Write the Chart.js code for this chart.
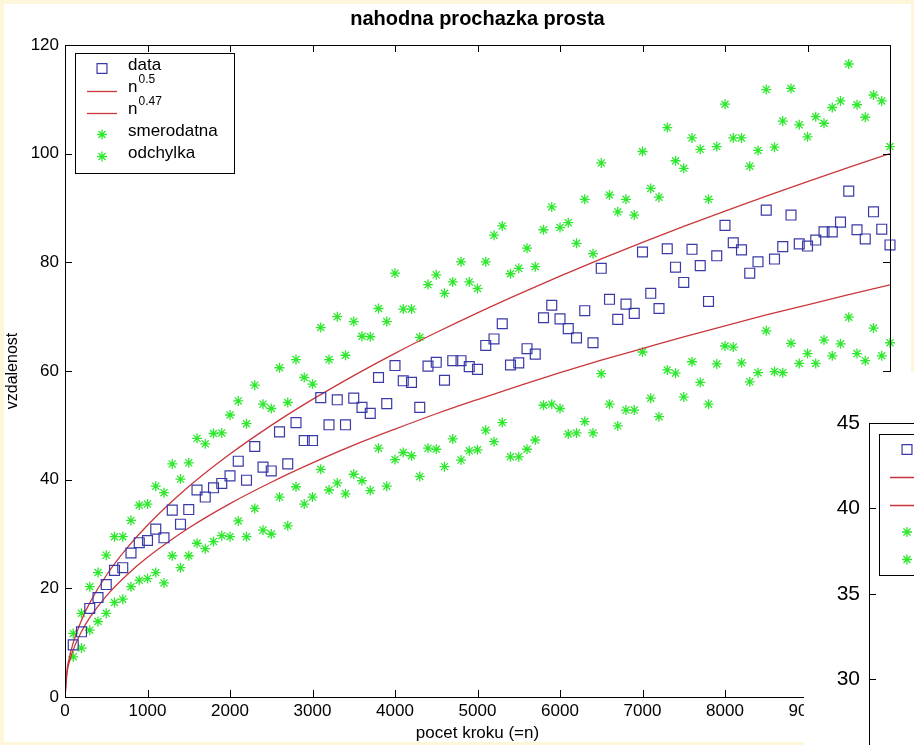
<!DOCTYPE html>
<html>
<head>
<meta charset="utf-8">
<script src="https://cdn.jsdelivr.net/npm/chart.js@4.4.1/dist/chart.umd.min.js"></script>
<style>
    html, body { margin: 0; padding: 0; }
    body { width: 914px; height: 745px; background: #fdf6da; position: relative; overflow: hidden; }
    #paper { position: absolute; left: 4px; top: 4px; right: 3px; bottom: 3px; background: #fff; }
    #main { position: absolute; left: 0; top: 0; }
    #inset { position: absolute; left: 804px; top: 372px; width: 110px; height: 373px; overflow: hidden; background: #fff; }
    #inset canvas { position: absolute; left: 0; top: 0; }
</style>
</head>
<body>
<div id="paper"></div>
<canvas id="main" width="914" height="745"></canvas>
<div id="inset"><canvas id="zoomChart" width="400" height="520"></canvas></div>
<script>
// pocet kroku n = 100, 200, ... 10000
const steps = Array.from({length: 100}, (_, i) => (i + 1) * 100);

const distance = [
    9.6, 12.0, 16.3, 18.3, 20.7, 23.3, 23.8, 26.5, 28.4, 28.8,
    30.9, 29.3, 34.4, 31.8, 34.5, 38.1, 36.8, 38.5, 39.3, 40.7,
    43.4, 39.9, 46.1, 42.3, 41.6, 48.8, 42.9, 50.5, 47.2, 47.2,
    55.1, 50.1, 54.7, 50.1, 55.0, 53.3, 52.2, 58.8, 54.0, 61.0,
    58.2, 57.9, 53.3, 60.9, 61.6, 58.3, 61.9, 61.9, 60.8, 60.3,
    64.7, 65.9, 68.7, 61.1, 61.5, 64.1, 63.1, 69.8, 72.1, 69.6,
    67.8, 66.1, 71.1, 65.2, 78.9, 73.2, 69.5, 72.3, 70.6, 81.9,
    74.3, 71.5, 82.5, 79.1, 76.3, 82.4, 79.4, 72.8, 81.2, 86.8,
    83.6, 82.3, 78.0, 80.1, 89.6, 80.6, 82.9, 88.7, 83.4, 83.0,
    84.1, 85.6, 85.6, 87.4, 93.1, 86.0, 84.3, 89.3, 86.1, 83.2
];

const upperDev = [
    11.7, 15.4, 20.3, 22.9, 26.1, 29.5, 29.5, 32.5, 35.3, 35.5,
    38.8, 37.6, 42.9, 40.1, 43.1, 47.6, 46.6, 48.5, 48.6, 51.9,
    54.5, 50.3, 57.4, 53.9, 53.1, 60.6, 54.2, 62.1, 58.8, 57.6,
    68.0, 62.1, 70.0, 62.9, 69.1, 66.4, 66.3, 71.5, 69.1, 78.0,
    71.4, 71.4, 66.2, 75.9, 77.7, 74.3, 76.4, 80.1, 76.4, 75.2,
    80.1, 85.0, 86.7, 77.9, 78.9, 82.6, 79.2, 86.0, 90.2, 86.4,
    87.3, 83.5, 91.6, 81.6, 98.3, 92.4, 89.3, 91.6, 88.7, 100.4,
    93.6, 92.0, 104.8, 98.7, 97.3, 102.9, 100.8, 91.6, 101.3, 109.1,
    102.9, 102.9, 97.7, 100.6, 111.8, 101.2, 106.0, 112.0, 105.3, 103.1,
    106.8, 105.6, 108.5, 109.7, 116.5, 109.0, 106.7, 110.8, 109.7, 101.3
];

const lowerDev = [
    7.4, 9.0, 12.3, 13.9, 15.4, 17.4, 18.0, 20.3, 21.5, 21.8,
    22.9, 21.0, 26.0, 23.8, 26.0, 28.3, 27.3, 28.6, 29.7, 29.5,
    32.4, 29.5, 34.7, 30.7, 30.0, 36.8, 31.5, 38.7, 35.5, 36.8,
    41.9, 38.1, 39.4, 37.4, 41.0, 39.8, 38.0, 45.8, 38.8, 43.7,
    45.0, 44.4, 40.6, 45.8, 45.6, 42.4, 47.5, 43.6, 45.3, 45.5,
    49.1, 47.0, 50.5, 44.2, 44.2, 45.6, 47.3, 53.7, 53.9, 53.1,
    48.4, 48.6, 50.7, 48.6, 59.5, 53.9, 49.9, 52.8, 52.8, 63.5,
    55.0, 51.6, 60.2, 59.6, 55.2, 61.7, 57.9, 53.9, 61.3, 64.6,
    64.4, 61.5, 58.0, 59.7, 67.4, 59.9, 59.7, 65.1, 61.4, 63.2,
    61.4, 65.7, 62.8, 65.0, 69.9, 63.2, 61.9, 67.9, 62.8, 65.2
];

// body krivek n^0.5 a n^0.47
const curveN = [0, 25, 50, 100, 200, 300, 500, 750, 1000, 1500, 2000, 2500, 3000, 3500, 4000,
    4500, 5000, 5500, 6000, 6500, 7000, 7500, 8000, 8500, 9000, 9500, 10000];
const curveHalf = [0, 5.0, 7.07, 10.0, 14.14, 17.32, 22.36, 27.39, 31.62, 38.73, 44.72, 50.0, 54.77, 59.16, 63.25,
    67.08, 70.71, 74.16, 77.46, 80.62, 83.67, 86.60, 89.44, 92.20, 94.87, 97.47, 100.0];
const curve047 = [0, 4.54, 6.29, 8.71, 12.06, 14.60, 18.56, 22.45, 25.70, 31.10, 35.60, 39.53, 43.08, 46.35, 49.30,
    52.13, 54.75, 57.27, 59.69, 61.98, 64.14, 66.29, 68.31, 70.31, 72.18, 74.07, 75.86];

const xTicks = {min: 0, max: 10000, step: 1000};
const yTicks = {min: 0, max: 120, step: 20};
const zoomTicks = {min: 20, max: 45, step: 5};

const seriesLabels = ['data', 'n^0.5', 'n^0.47', 'smerodatna', 'odchylka'];
const chartTitle = 'nahodna prochazka prosta';
const xLabel = 'pocet kroku (=n)';
const yLabel = 'vzdalenost';

const FONT = '"Liberation Sans", Arial, Helvetica, sans-serif';
const BLUE = '#3a3aa6';
const RED = '#c9373b';
const GREEN = '#2ee82e';

Chart.defaults.font.family = FONT;
Chart.defaults.color = '#000';

const pts = (xs, ys) => xs.map((x, i) => ({x, y: ys[i]}));

function makeDatasets(withData) {
    return [
        {label: seriesLabels[0], data: withData ? pts(steps, distance) : [], pointStyle: 'rect', pointRadius: 7,
            pointHoverRadius: 7, borderColor: BLUE, backgroundColor: 'rgba(0,0,0,0)', borderWidth: 1.2, clip: 10},
        {label: seriesLabels[1], data: withData ? pts(curveN, curveHalf) : [], showLine: true, pointRadius: 0,
            borderColor: RED, borderWidth: 1.3, cubicInterpolationMode: 'monotone', fill: false},
        {label: seriesLabels[2], data: withData ? pts(curveN, curve047) : [], showLine: true, pointRadius: 0,
            borderColor: RED, borderWidth: 1.3, cubicInterpolationMode: 'monotone', fill: false},
        {label: seriesLabels[3], data: withData ? pts(steps, upperDev) : [], pointStyle: 'star', pointRadius: 5,
            pointHoverRadius: 5, borderColor: GREEN, backgroundColor: GREEN, borderWidth: 1.3, clip: 10},
        {label: seriesLabels[4], data: withData ? pts(steps, lowerDev) : [], pointStyle: 'star', pointRadius: 5,
            pointHoverRadius: 5, borderColor: GREEN, backgroundColor: GREEN, borderWidth: 1.3, clip: 10}
    ];
}

// ramecek kolem grafu s ticky dovnitr (jako v matlabu)
const frameBox = {
    id: 'frameBox',
    afterDatasetsDraw(chart, args, opts) {
        const {ctx, chartArea: a} = chart;
        const len = opts.tickLength || 7;
        ctx.save();
        ctx.strokeStyle = '#000';
        ctx.lineWidth = 1;
        ctx.strokeRect(Math.round(a.left) + 0.5, Math.round(a.top) + 0.5,
            Math.round(a.right - a.left), Math.round(a.bottom - a.top));
        ctx.beginPath();
        const xs = chart.scales.x;
        if (xs.options.display) {
            xs.ticks.forEach(t => {
                const px = Math.round(xs.getPixelForValue(t.value)) + 0.5;
                ctx.moveTo(px, a.bottom); ctx.lineTo(px, a.bottom - len);
                ctx.moveTo(px, a.top); ctx.lineTo(px, a.top + len);
            });
        }
        const ys = chart.scales.y;
        ys.ticks.forEach(t => {
            const py = Math.round(ys.getPixelForValue(t.value)) + 0.5;
            ctx.moveTo(a.left, py); ctx.lineTo(a.left + len, py);
            ctx.moveTo(a.right, py); ctx.lineTo(a.right - len, py);
        });
        ctx.stroke();
        ctx.restore();
    }
};

function drawMarker(ctx, style, x, y, r) {
    ctx.beginPath();
    if (style === 'rect') {
        const s = Math.SQRT1_2 * r;
        ctx.rect(x - s, y - s, 2 * s, 2 * s);
    } else {
        const d = Math.SQRT1_2 * r;
        ctx.moveTo(x - r, y); ctx.lineTo(x + r, y);
        ctx.moveTo(x, y - r); ctx.lineTo(x, y + r);
        ctx.moveTo(x - d, y - d); ctx.lineTo(x + d, y + d);
        ctx.moveTo(x - d, y + d); ctx.lineTo(x + d, y - d);
    }
    ctx.stroke();
}

// legenda v ramecku, s hornimi indexy
const boxLegend = {
    id: 'boxLegend',
    afterDraw(chart, args, o) {
        const {ctx, chartArea: a} = chart;
        const bx = Math.round(a.left + o.dx), by = Math.round(a.top + o.dy);
        ctx.save();
        ctx.fillStyle = '#fff';
        ctx.fillRect(bx, by, o.width, o.height);
        ctx.strokeStyle = '#000';
        ctx.lineWidth = 1;
        ctx.strokeRect(bx + 0.5, by + 0.5, o.width, o.height);
        chart.data.datasets.forEach((ds, i) => {
            const y = by + o.first + i * o.step;
            ctx.strokeStyle = ds.borderColor;
            ctx.lineWidth = ds.borderWidth;
            if (ds.showLine) {
                ctx.beginPath();
                ctx.moveTo(bx + o.lineFrom, Math.round(y) + 0.5);
                ctx.lineTo(bx + o.lineTo, Math.round(y) + 0.5);
                ctx.stroke();
            } else {
                drawMarker(ctx, ds.pointStyle, bx + o.markerX, y, ds.pointRadius);
            }
            const [base, sup] = ds.label.split('^');
            ctx.fillStyle = '#000';
            ctx.textBaseline = 'middle';
            ctx.textAlign = 'left';
            ctx.font = `${o.font}px ${FONT}`;
            const ty = y - o.textLift;
            ctx.fillText(base, bx + o.textX, ty);
            if (sup) {
                const w = ctx.measureText(base).width;
                ctx.font = `${Math.round(o.font * 0.7)}px ${FONT}`;
                ctx.fillText(sup, bx + o.textX + w + 1, ty - o.font * 0.45);
            }
        });
        ctx.restore();
    }
};

const titleText = {
    id: 'titleText',
    afterDraw(chart, args, o) {
        const {ctx, chartArea: a} = chart;
        ctx.save();
        ctx.font = `bold 20px ${FONT}`;
        ctx.fillStyle = '#000';
        ctx.textAlign = 'center';
        ctx.textBaseline = 'middle';
        ctx.fillText(o.text, (a.left + a.right) / 2, a.top - o.offset);
        ctx.restore();
    }
};

new Chart(document.getElementById('main'), {
    type: 'scatter',
    data: {datasets: makeDatasets(true)},
    options: {
        responsive: false,
        animation: false,
        events: [],
        layout: {padding: {left: 0, top: 45, right: 24, bottom: 0}},
        plugins: {
            legend: {display: false},
            tooltip: {enabled: false},
            frameBox: {tickLength: 7},
            boxLegend: {dx: 10, dy: 8, width: 159, height: 120, first: 15.5, step: 22,
                markerX: 27, lineFrom: 12, lineTo: 42, textX: 53, textLift: 3, font: 17},
            titleText: {text: chartTitle, offset: 26}
        },
        scales: {
            x: {
                type: 'linear', min: xTicks.min, max: xTicks.max,
                afterFit: s => { s.height = 48; s.paddingLeft = 0; s.paddingRight = 0; },
                ticks: {stepSize: xTicks.step, padding: 4, font: {size: 17}, maxRotation: 0, autoSkip: false,
                    callback: v => String(v)},
                grid: {display: false, drawTicks: false},
                border: {display: false},
                title: {display: true, text: xLabel, font: {size: 17}, padding: {top: 0, bottom: 1}}
            },
            y: {
                type: 'linear', min: yTicks.min, max: yTicks.max,
                afterFit: s => { s.width = 65; },
                ticks: {stepSize: yTicks.step, padding: 6, font: {size: 17}, callback: v => String(v)},
                grid: {display: false, drawTicks: false},
                border: {display: false},
                title: {display: true, text: yLabel, font: {size: 16}, padding: {top: 3, bottom: 0}}
            }
        }
    },
    plugins: [frameBox, boxLegend, titleText]
});

// druhy obrazek prekryvajici pravy dolni roh
new Chart(document.getElementById('zoomChart'), {
    type: 'scatter',
    data: {datasets: makeDatasets(false)},
    options: {
        responsive: false,
        animation: false,
        events: [],
        layout: {padding: {left: 0, top: 51, right: 0, bottom: 42}},
        plugins: {
            legend: {display: false},
            tooltip: {enabled: false},
            frameBox: {tickLength: 7},
            boxLegend: {dx: 10, dy: 11, width: 250, height: 141, first: 15.5, step: 27.5,
                markerX: 28, lineFrom: 11, lineTo: 52, textX: 66, textLift: 3, font: 21}
        },
        scales: {
            x: {type: 'linear', display: false, min: 0, max: 1000},
            y: {
                type: 'linear', min: zoomTicks.min, max: zoomTicks.max,
                afterFit: s => { s.width = 65; },
                ticks: {stepSize: zoomTicks.step, padding: 9, font: {size: 21}},
                grid: {display: false, drawTicks: false},
                border: {display: false}
            }
        }
    },
    plugins: [frameBox, boxLegend]
});
</script>
</body>
</html>
